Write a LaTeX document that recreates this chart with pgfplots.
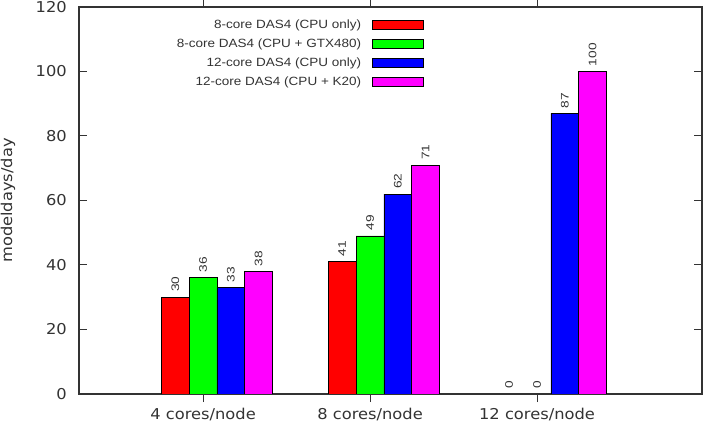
\documentclass[border=0pt]{standalone}
\usepackage{pgfplots}
\pgfplotsset{compat=1.18}
\usepackage{pgfplotstable}
\usepackage{fontspec}
\setmainfont{DejaVu Sans}[FakeStretch=1.09]
\newfontfamily\keyfont{Liberation Sans}[FakeStretch=1.13]
\newfontfamily\valfont{Liberation Sans}[FakeStretch=1.25]

\definecolor{borderc}{HTML}{333333}
\definecolor{txtc}{HTML}{333333}
\definecolor{barred}{HTML}{FF0000}
\definecolor{bargreen}{HTML}{00FF00}
\definecolor{barblue}{HTML}{0000FF}
\definecolor{barmagenta}{HTML}{FF00FF}

% modeldays/day per node configuration (x = 0: 4 cores, 1: 8 cores, 2: 12 cores)
\pgfplotstableread{
x  cpu8  gtx480  cpu12  k20
0  30    36      33     38
1  41    49      62     71
2  0     0       87     100
}\modeldays

\begin{document}
\begin{tikzpicture}
\path[use as bounding box] (-79bp,-29bp) rectangle (634bp,394bp);
\begin{axis}[
  at={(0,0)}, anchor=south west,
  scale only axis, width=623bp, height=387bp,
  xmin=-0.743, xmax=2.988, ymin=0, ymax=120,
  xtick={0,1,2},
  xticklabels={4 cores/node, 8 cores/node, 12 cores/node},
  ytick={0,20,...,120},
  tick align=inside, major tick length=8bp,
  axis line style={borderc, line width=1.4bp},
  every tick/.style={borderc, line width=1bp},
  tick label style={font=\fontsize{15}{18}\selectfont, text=txtc, inner sep=0pt},
  xticklabel style={yshift=-6bp},
  yticklabel style={xshift=-12bp},
  /pgf/number format/assume math mode=true,
  ylabel={modeldays/day},
  every axis y label/.style={at={(axis description cs:-0.114,0.5)}, rotate=90, anchor=center,
    font=\fontsize{15}{18}\selectfont, text=txtc},
  ybar, bar width=0.1667,
  nodes near coords,
  nodes near coords align=west,
  every node near coord/.append style={rotate=90, anchor=west, inner xsep=5bp, inner ysep=0pt,
    font=\valfont\fontsize{11}{13}\selectfont, text=txtc},
  legend plot pos=right,
  legend cell align=right,
  legend image code/.code={\path (0bp,0bp); \draw[#1] (11bp,-4.5bp) rectangle (62bp,4.5bp);},
  legend style={draw=none, fill=none, at={(rel axis cs:0.5538,0.966)}, anchor=north east,
    inner sep=0pt, outer sep=0pt, row sep=8.8bp,
    font=\keyfont\fontsize{12}{14}\selectfont, text=txtc, nodes={inner sep=0pt}},
]
\addplot[fill=barred, draw=black, line width=0.8bp, bar shift=-0.1667]
  table[x=x, y=cpu8]{\modeldays};
\addlegendentry{8-core DAS4 (CPU only)}
\addplot[fill=bargreen, draw=black, line width=0.8bp, bar shift=0]
  table[x=x, y=gtx480]{\modeldays};
\addlegendentry{8-core DAS4 (CPU + GTX480)}
\addplot[fill=barblue, draw=black, line width=0.8bp, bar shift=0.1667]
  table[x=x, y=cpu12]{\modeldays};
\addlegendentry{12-core DAS4 (CPU only)}
\addplot[fill=barmagenta, draw=black, line width=0.8bp, bar shift=0.3333]
  table[x=x, y=k20]{\modeldays};
\addlegendentry{12-core DAS4 (CPU + K20)}
\end{axis}
\end{tikzpicture}
\end{document}
